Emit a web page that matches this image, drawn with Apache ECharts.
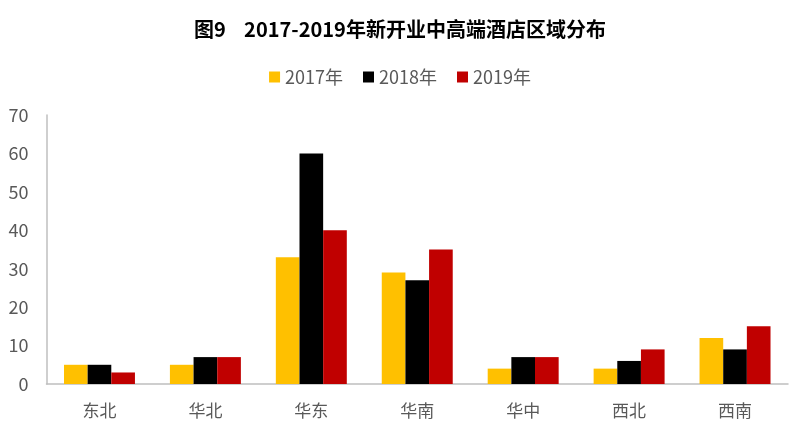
<!DOCTYPE html>
<html>
<head>
<meta charset="utf-8">
<script src="https://cdn.jsdelivr.net/npm/echarts@6/dist/echarts.min.js"></script>
<style>
  html, body { margin: 0; padding: 0; background: #fff; }
  #chart { width: 800px; height: 434px; }
</style>
</head>
<body>
<div id="chart"></div>
<script>
// 区域分类
var regions = ['东北', '华北', '华东', '华南', '华中', '西北', '西南'];
// 各年新开业数量
var data2017 = [5, 5, 33, 29, 4, 4, 12];
var data2018 = [5, 7, 60, 27, 7, 6, 9];
var data2019 = [3, 7, 40, 35, 7, 9, 15];
var yTicks = [0, 10, 20, 30, 40, 50, 60, 70];

var font = '"Microsoft YaHei", "Noto Sans CJK SC", sans-serif';
var myChart = echarts.init(document.getElementById('chart'));

myChart.setOption({
  backgroundColor: '#fff',
  animation: false,
  title: {
    text: '图9    2017-2019年新开业中高端酒店区域分布',
    left: 'center',
    top: 14,
    textStyle: { fontFamily: font, fontSize: 20, fontWeight: 'bold', color: '#000' }
  },
  legend: {
    top: 63,
    left: 'center',
    itemWidth: 11,
    itemHeight: 11,
    itemGap: 20,
    icon: 'rect',
    textStyle: { fontFamily: font, fontSize: 18, color: '#595959' },
    data: ['2017年', '2018年', '2019年']
  },
  grid: { left: 46.5, right: 12, top: 115, bottom: 50, containLabel: false },
  xAxis: {
    type: 'category',
    data: regions,
    axisLine: { lineStyle: { color: '#bfbfbf', width: 1.5 } },
    axisTick: { show: false },
    axisLabel: { fontFamily: font, fontSize: 17, color: '#595959', margin: 18 }
  },
  yAxis: {
    type: 'value',
    min: yTicks[0],
    max: yTicks[yTicks.length - 1],
    interval: 10,
    axisLine: { show: true, lineStyle: { color: '#bfbfbf', width: 1.5 } },
    axisTick: { show: false },
    splitLine: { show: false },
    axisLabel: { fontFamily: font, fontSize: 18, color: '#595959', margin: 18 }
  },
  series: [
    { name: '2017年', type: 'bar', data: data2017, itemStyle: { color: '#FFC000' }, barGap: '0%', barCategoryGap: '33%' },
    { name: '2018年', type: 'bar', data: data2018, itemStyle: { color: '#000000' }, barGap: '0%', barCategoryGap: '33%' },
    { name: '2019年', type: 'bar', data: data2019, itemStyle: { color: '#C00000' }, barGap: '0%', barCategoryGap: '33%' }
  ]
});
</script>
</body>
</html>
